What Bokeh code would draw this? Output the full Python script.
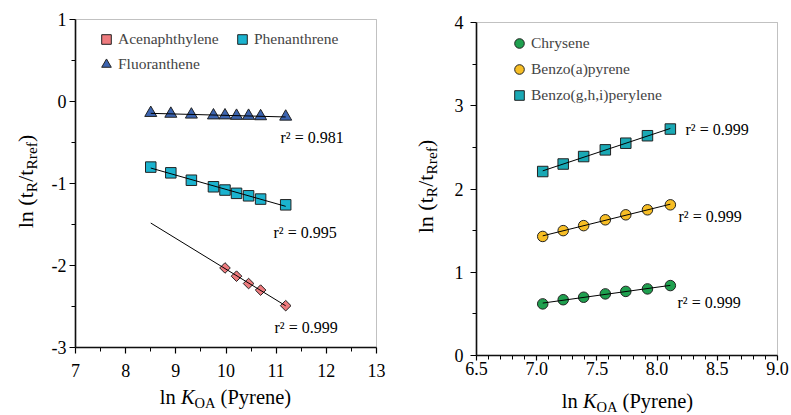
import numpy as np
from bokeh.plotting import figure
from bokeh.layouts import row
from bokeh.models import (FixedTicker, PrintfTickFormatter, Label, Legend,
                          LegendItem, Range1d, BoxAnnotation)
from bokeh.embed import file_html
from bokeh.resources import INLINE

# ---------------- data ----------------
# Left panel
x_left = [8.50, 8.90, 9.31, 9.75, 9.98, 10.21, 10.45, 10.69, 11.19]
fluo_y = [-0.14, -0.15, -0.16, -0.17, -0.17, -0.175, -0.175, -0.18, -0.185]
phen_y = [-0.80, -0.87, -0.96, -1.04, -1.08, -1.12, -1.15, -1.19, -1.26]
acen_x = [9.98, 10.21, 10.45, 10.69, 11.19]
acen_y = [-2.03, -2.13, -2.22, -2.30, -2.49]
left_r2 = {"Fluoranthene": "0.981", "Phenanthrene": "0.995", "Acenaphthylene": "0.999"}

# Right panel
x_right = [7.05, 7.22, 7.39, 7.57, 7.74, 7.92, 8.11]
chry_y = [0.62, 0.67, 0.70, 0.74, 0.77, 0.80, 0.84]
bap_y = [1.43, 1.50, 1.56, 1.63, 1.69, 1.75, 1.81]
bghip_y = [2.21, 2.30, 2.39, 2.47, 2.55, 2.64, 2.72]
right_r2 = {"Chrysene": "0.999", "Benzo(a)pyrene": "0.999", "Benzo(g,h,i)perylene": "0.999"}

left_xticks = [7, 8, 9, 10, 11, 12, 13]
left_yticks = [-3, -2, -1, 0, 1]
right_xticks = [6.5, 7.0, 7.5, 8.0, 8.5, 9.0]
right_yticks = [0, 1, 2, 3, 4]

FONT = "Liberation Serif"

# Times-compatible advance widths (per 1000 em)
TW = {' ': 250, '(': 333, ')': 333, '/': 278, 'l': 278, 'n': 500, 't': 278,
      'R': 667, 'r': 333, 'e': 444, 'f': 333, 'P': 556, 'y': 500, 'K': 667,
      'O': 722, 'A': 722}

# empirical correction of Label's alphabetic baseline (px, toward text "up")
BASE_FIX = 7


def text_w(s, size):
    return sum(TW.get(c, 500) for c in s) * size / 1000.0


class Geo:
    """Maps page pixels to data for a figure whose frame fills its canvas."""

    def __init__(self, canvas_left, width, height, box_px, box_data):
        bl, br, bt, bb = box_px
        x0, x1, y0, y1 = box_data
        self.kx = (br - bl) / (x1 - x0)
        self.ky = (bb - bt) / (y1 - y0)
        self.bl, self.bt, self.x0, self.y1 = bl, bt, x0, y1
        self.xr = (x0 - (bl - canvas_left) / self.kx,
                   x0 + (canvas_left + width - bl) / self.kx)
        self.yr = (y1 - (height - bt) / self.ky, y1 + bt / self.ky)

    def to_data(self, px, py):
        return (self.x0 + (px - self.bl) / self.kx, self.y1 - (py - self.bt) / self.ky)


def make_fig(geo, w, h, box, xticks, xminor, yticks, yminor, xfmt, yfmt,
             xstand, ystand, xtick_out):
    x0, x1, y0, y1 = box
    p = figure(width=w, height=h, x_range=Range1d(*geo.xr), y_range=Range1d(*geo.yr),
               output_backend="svg", toolbar_location=None, title=None,
               min_border=0, min_border_left=0, min_border_right=0,
               min_border_top=0, min_border_bottom=0)
    p.xgrid.visible = False
    p.ygrid.visible = False
    p.outline_line_color = None
    p.background_fill_color = "white"
    p.border_fill_color = "white"
    p.add_layout(BoxAnnotation(left=x0, right=x1, bottom=y0, top=y1,
                               fill_alpha=0, line_color="#333333", line_width=1))
    p.xaxis.ticker = FixedTicker(ticks=xticks, minor_ticks=xminor)
    p.yaxis.ticker = FixedTicker(ticks=yticks, minor_ticks=yminor)
    p.xaxis.formatter = PrintfTickFormatter(format=xfmt)
    p.yaxis.formatter = PrintfTickFormatter(format=yfmt)
    p.xaxis.fixed_location = y0
    p.yaxis.fixed_location = x0
    p.xaxis.bounds = (x0, x1)
    p.yaxis.bounds = (y0, y1)
    for ax in (p.xaxis[0], p.yaxis[0]):
        ax.axis_line_width = 1.6
        ax.axis_line_color = "black"
        ax.major_tick_line_color = "black"
        ax.major_tick_line_width = 1.2
        ax.major_tick_in = 0
        ax.major_tick_out = 6
        ax.minor_tick_line_color = "black"
        ax.minor_tick_line_width = 1
        ax.minor_tick_in = 0
        ax.minor_tick_out = 4
        ax.major_label_text_font = FONT
        ax.major_label_text_font_size = "18px"
        ax.major_label_text_color = "black"
    p.xaxis.major_tick_out = xtick_out
    p.xaxis.major_label_standoff = xstand
    p.yaxis.major_label_standoff = ystand
    return p


def _label(p, xd, yd, t, sz, st, angle=0.0):
    p.add_layout(Label(x=xd, y=yd, text=t, text_font=FONT, angle=angle,
                       text_font_size=f"{sz}px", text_font_style=st,
                       text_color="black", text_align="left",
                       text_baseline="alphabetic"))


def add_rich(p, geo, pieces, ax_, ay_, vertical=False):
    total = sum(text_w(t, sz) for t, sz, st, off in pieces)
    if not vertical:
        cx = ax_ - total / 2
        for t, sz, st, off in pieces:
            s = t.lstrip()
            lead = text_w(t[:len(t) - len(s)], sz)
            xd, yd = geo.to_data(cx + lead, ay_ + off - BASE_FIX)
            _label(p, xd, yd, s.rstrip(), sz, st)
            cx += text_w(t, sz)
    else:
        cy = ay_ + total / 2
        for t, sz, st, off in pieces:
            s = t.lstrip()
            lead = text_w(t[:len(t) - len(s)], sz)
            xd, yd = geo.to_data(ax_ + off - BASE_FIX, cy - lead)
            _label(p, xd, yd, s.rstrip(), sz, st, angle=np.pi / 2)
            cy -= text_w(t, sz)


def r2_label(p, geo, px, py, val):
    xd, yd = geo.to_data(px, py - BASE_FIX + 1)
    _label(p, xd, yd, f"r\u00b2 = {val}", 16, "normal")


def fit_line(p, xs, ys, xa, xb):
    k, b = np.polyfit(np.asarray(xs, float), np.asarray(ys, float), 1)
    p.line([xa, xb], [k * xa + b, k * xb + b], line_color="black", line_width=1)


XLAB = [("ln ", 20.5, "normal", 0), ("K", 20.5, "italic", 0),
        ("OA", 14.5, "normal", 6), (" (Pyrene)", 20.5, "normal", 0)]
YLAB = [("ln (t", 22, "normal", 0), ("R", 15.5, "normal", 6), ("/t", 22, "normal", 0),
        ("Rref", 15.5, "normal", 6), (")", 22, "normal", 0)]

H = 414

# ---------------- left panel ----------------
L_LEFT, L_W = 0, 408
L_BOX = (7, 13, -3, 1)
gl = Geo(L_LEFT, L_W, H, (75, 376, 19, 347), L_BOX)
lx_minor = list(np.arange(7.5, 13, 1.0))
ly_minor = list(np.arange(-2.5, 1, 1.0))
p1 = make_fig(gl, L_W, H, L_BOX, left_xticks, lx_minor, left_yticks, ly_minor,
              "%d", "%d", 10, 3, 6)

r_acen = p1.scatter(acen_x, acen_y, marker="square", angle=np.pi / 4, size=7.5,
                    fill_color="#EE7B7E", line_color="#222222", line_width=1)
r_phen = p1.scatter(x_left, phen_y, marker="square", size=10.5,
                    fill_color="#1BB3CF", line_color="#222222", line_width=1)
r_fluo = p1.scatter(x_left, fluo_y, marker="triangle", size=12,
                    fill_color="#3C64B0", line_color="#222222", line_width=1)
xa, xb = min(x_left), max(x_left)
fit_line(p1, acen_x, acen_y, xa, xb)
fit_line(p1, x_left, phen_y, xa, xb)
fit_line(p1, x_left, fluo_y, xa, xb)

r2_label(p1, gl, 280, 143, left_r2["Fluoranthene"])
r2_label(p1, gl, 273, 238, left_r2["Phenanthrene"])
r2_label(p1, gl, 274, 333, left_r2["Acenaphthylene"])

leg1 = Legend(items=[LegendItem(label="Acenaphthylene", renderers=[r_acen]),
                     LegendItem(label="Phenanthrene", renderers=[r_phen]),
                     LegendItem(label="Fluoranthene", renderers=[r_fluo])],
              location=(94, H - 76), orientation="horizontal", ncols=2,
              border_line_color=None, background_fill_alpha=0,
              label_text_font=FONT, label_text_font_size="15.5px",
              glyph_width=24, glyph_height=24, label_height=24, label_width=111,
              label_standoff=0, spacing=1, padding=0, margin=0)
p1.add_layout(leg1)

add_rich(p1, gl, XLAB, 225, 403)
add_rich(p1, gl, YLAB, 32, 181, vertical=True)

# ---------------- right panel ----------------
R_LEFT, R_W = 408, 382
R_BOX = (6.5, 9.0, 0, 4)
gr = Geo(R_LEFT, R_W, H, (476, 777, 22, 355), R_BOX)
rx_minor = [v for v in np.round(np.arange(6.5, 9.0001, 0.1), 2) if v not in right_xticks]
ry_minor = list(np.arange(0.5, 4, 1.0))
p2 = make_fig(gr, R_W, H, R_BOX, right_xticks, rx_minor, right_yticks, ry_minor,
              "%.1f", "%d", 1, 7, 5)

r_chry = p2.scatter(x_right, chry_y, marker="circle", size=10.5,
                    fill_color="#1FA04F", line_color="#222222", line_width=1)
r_bap = p2.scatter(x_right, bap_y, marker="circle", size=10.5,
                   fill_color="#F7BE25", line_color="#222222", line_width=1)
r_bghip = p2.scatter(x_right, bghip_y, marker="square", size=10.5,
                     fill_color="#1AA9B5", line_color="#222222", line_width=1)
xa, xb = min(x_right), max(x_right)
fit_line(p2, x_right, chry_y, xa, xb)
fit_line(p2, x_right, bap_y, xa, xb)
fit_line(p2, x_right, bghip_y, xa, xb)

r2_label(p2, gr, 685, 135, right_r2["Benzo(g,h,i)perylene"])
r2_label(p2, gr, 678, 222, right_r2["Benzo(a)pyrene"])
r2_label(p2, gr, 677, 308, right_r2["Chrysene"])

leg2 = Legend(items=[LegendItem(label="Chrysene", renderers=[r_chry]),
                     LegendItem(label="Benzo(a)pyrene", renderers=[r_bap]),
                     LegendItem(label="Benzo(g,h,i)perylene", renderers=[r_bghip])],
              location=(99, H - 107), orientation="vertical",
              border_line_color=None, background_fill_alpha=0,
              label_text_font=FONT, label_text_font_size="15.5px",
              glyph_width=24, glyph_height=24, label_height=24,
              label_standoff=0, spacing=2, padding=0, margin=0)
p2.add_layout(leg2)

add_rich(p2, gr, XLAB, 627, 407)
add_rich(p2, gr, YLAB, 432, 186, vertical=True)

layout = row(p1, p2)
open("out.html", "w").write(file_html(layout, INLINE))
